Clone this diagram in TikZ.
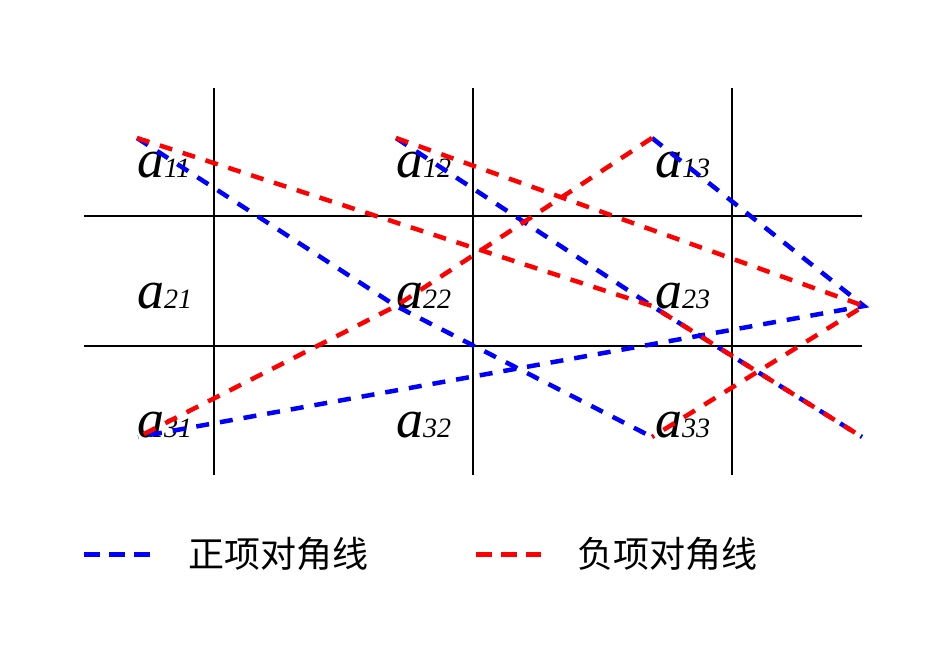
\documentclass[tikz,border=0pt]{standalone}
\usepackage{fontspec}
\setmainfont{Liberation Serif}
\newfontfamily\cjk{Noto Sans CJK SC}
\usetikzlibrary{positioning}

\begin{document}
\begin{tikzpicture}[
  x=1pt,y=-1pt,
  node distance=38pt,
  grid/.style={line width=2.2pt,black},
  entry/.style={anchor=base west,inner sep=0pt,font=\itshape},
  posline/.style={blue,line width=4.5pt,dash pattern=on 13pt off 11pt},
  negline/.style={red,line width=4.5pt,dash pattern=on 13pt off 11pt},
  legline/.style={line width=5pt,dash pattern=on 16pt off 9pt},
  legtext/.style={anchor=west,inner sep=0pt,font={\cjk\fontsize{36}{40}\selectfont}}
]
\useasboundingbox (0,0) rectangle (931,655);

% grid
\foreach \x in {214,473,732}
  \draw[grid] (\x,88) -- (\x,475);
\foreach \y in {216,346}
  \draw[grid] (84,\y) -- (862,\y);

% matrix entries
\foreach \i/\y in {1/178,2/308,3/437}
  \foreach \j/\x in {1/137,2/396,3/655}
    \node[entry] (a\i\j) at (\x,\y) {\fontsize{54}{54}\selectfont a\fontsize{28}{28}\selectfont\i\j};

% corner points of the diagonals
\coordinate (p11) at (137,138);
\coordinate (p12) at (396,138);
\coordinate (p13) at (652,138);
\coordinate (p22) at (396,306);
\coordinate (p23) at (652,306);
\coordinate (p24) at (864,306);
\coordinate (p31) at (138,437);
\coordinate (p33) at (652,437);
\coordinate (p34) at (862,437);

% positive diagonals
\draw[posline] (p11) -- (p22) -- (p33);
\draw[posline] (p12) -- (p23) -- (p34);
\draw[posline] (p13) -- (p24) -- (p31);

% negative diagonals
\draw[negline] (p11) -- (p23) -- (p34);
\draw[negline] (p12) -- (p24) -- (p33);
\draw[negline] (p13) -- (p22) -- (p31);

% legend
\coordinate (posA) at (84,554);
\coordinate (posB) at (150,554);
\draw[legline,blue] (posA) -- (posB);
\node[legtext,right=of posB] (poslabel) {正项对角线};
\coordinate (negA) at (476,554);
\coordinate (negB) at (541,554);
\draw[legline,red] (negA) -- (negB);
\node[legtext,right=36pt of negB] (neglabel) {负项对角线};
\end{tikzpicture}
\end{document}
